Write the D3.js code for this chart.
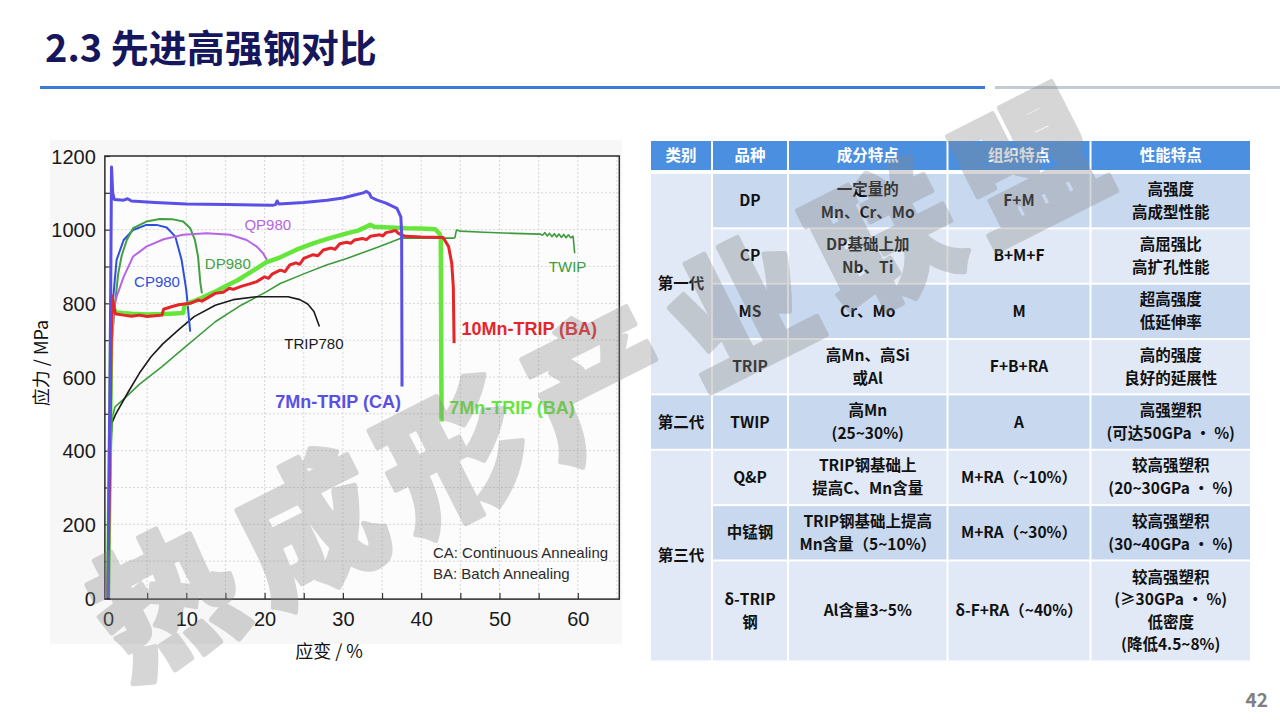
<!DOCTYPE html>
<html>
<head>
<meta charset="utf-8">
<script src="https://cdn.jsdelivr.net/npm/d3@7"></script>
<style>
  body { margin: 0; background: #fff; }
  svg { display: block; }
</style>
</head>
<body>
<svg id="slide" width="1280" height="720"></svg>
<script>
// ---- chart data: [strain %, stress MPa] ----
var strainTicks = [0, 5, 10, 15, 20, 25, 30, 35, 40, 45, 50, 55, 60];
var stressTicks = [0, 100, 200, 300, 400, 500, 600, 700, 800, 900, 1000, 1100, 1200];

var twip = [[0,0],[0.35,420],[0.6,495],[0.9,519],[2,540],[4,580],[6.9,628],[9,666],[13.7,750],[17,795],
  [20.2,831],[22,854],[25,880],[28,905],[30.5,922],[34.7,954],[37.4,977],[40,977],[44.1,977],[44.3,978],
  [44.5,999],[45,996],[48,993],[51.8,990],[55.2,988],[55.5,985],[55.8,992],[56.1,983],[56.4,990],[56.7,981],
  [57,989],[57.3,980],[57.6,988],[57.9,979],[58.2,987],[58.5,978],[58.8,986],[59.1,978],[59.4,982],[59.6,936]];
var trip780 = [[0,0],[0.3,300],[0.47,474],[1,500],[2.6,560],[4,610],[5.5,655],[7,690],[9,728],[11,764],
  [13.7,795],[16,810],[19,818],[23,818],[24.5,810],[25.5,798],[26.3,778],[27,737]];
var cp980 = [[0,0],[0.3,600],[0.6,800],[1.1,918],[2,972],[3.2,999],[4.9,1013],[6.2,1013],[7.5,1006],
  [8.6,981],[9.4,918],[10,836],[10.5,723]];
var dp980 = [[0,0],[0.5,700],[0.9,800],[1.3,880],[1.75,930],[2.4,972],[3.2,1004],[4.9,1022],[6.6,1029],
  [8.3,1028],[9.6,1022],[10.5,1004],[11.1,972],[11.5,927],[11.8,854],[12,827]];
var qp980 = [[0,0],[0.5,700],[0.8,790],[1.1,818],[2,872],[3.2,927],[4.9,954],[7.1,974],[9.6,986],
  [12.6,990],[15.6,986],[17.7,972],[19,954],[19.8,936],[20.3,918]];
var mn7CA = [[0,0],[0.3,700],[0.45,1170],[0.6,1100],[0.8,1082],[2,1080],[2.5,1084],[3,1078],[6,1074],
  [10,1070],[15,1068],[21,1066],[21.4,1068],[21.6,1078],[21.8,1070],[25,1074],[28,1080],[30,1086],
  [31.5,1094],[32.6,1100],[33,1104],[33.4,1098],[33.6,1088],[34.3,1081],[35.5,1072],[36.9,1058],
  [37.4,1035],[37.5,990],[37.55,574]];
var mn7BA = [[0,0],[0.3,500],[0.45,815],[0.7,790],[1,775],[3,772],[5,770],[7,771],[8,772],[9.6,774],
  [9.8,795],[10.5,803],[11,806],[12,815],[13,825],[14,835],[15.3,850],[16.5,862],[17.7,878],[19,895],
  [20.2,911],[22,925],[24,945],[26.2,963],[28,975],[30.5,990],[32,998],[33.5,1013],[34,1008],[36,1006],
  [38,1004],[40,1003],[41.8,1001],[42.3,990],[42.5,981],[42.6,479]];
var mn10BA = [[0,0],[0.3,500],[0.5,820],[0.7,800],[0.9,772],[2,768],[3,765],[4,768],[5,764],[6,766],
  [6.9,768],[7.1,784],[8,790],[9,796],[10.5,800],[11.5,809],[12,806],[13.7,827],[14.7,830],[15.5,841],
  [16,838],[17,846],[18,852],[19,859],[20,872],[20.5,868],[21,880],[22,890],[22.6,886],[23.2,904],
  [24,910],[24.5,906],[25,922],[26.2,932],[26.8,929],[27.5,945],[28.5,950],[29,947],[29.6,962],
  [30.5,966],[31,963],[31.5,972],[32.5,976],[33,973],[33.5,982],[34.7,986],[35.1,983],[35.5,992],
  [36.2,995],[36.7,998],[37.1,990],[37.5,986],[38,982],[40,980],[42.8,979],[43.5,954],[43.9,909],
  [44.1,845],[44.2,692]];

// ---- table data ----
var tableHeader = ["类别", "品种", "成分特点", "组织特点", "性能特点"];
var generations = [["第一代", 4], ["第二代", 1], ["第三代", 3]];
var grades = [["DP"], ["CP"], ["MS"], ["TRIP"], ["TWIP"], ["Q&P"], ["中锰钢"], ["δ-TRIP", "钢"]];
var compositions = [["一定量的", "Mn、Cr、Mo"], ["DP基础上加", "Nb、Ti"], ["Cr、Mo"], ["高Mn、高Si", "或Al"],
  ["高Mn", "(25~30%)"], ["TRIP钢基础上", "提高C、Mn含量"], ["TRIP钢基础上提高", "Mn含量（5~10%）"], ["Al含量3~5%"]];
var microstructures = [["F+M"], ["B+M+F"], ["M"], ["F+B+RA"], ["A"], ["M+RA（~10%）"], ["M+RA（~30%）"], ["δ-F+RA（~40%）"]];
var properties = [["高强度", "高成型性能"], ["高屈强比", "高扩孔性能"], ["超高强度", "低延伸率"], ["高的强度", "良好的延展性"],
  ["高强塑积", "(可达50GPa • %)"], ["较高强塑积", "(20~30GPa • %)"], ["较高强塑积", "(30~40GPa • %)"],
  ["较高强塑积", "(≥30GPa • %)", "低密度", "(降低4.5~8%)"]];

var cjk = "'Noto Sans CJK SC','Noto Sans',sans-serif";
var latin = "'Liberation Sans',Arial,sans-serif";

var svg = d3.select("#slide");

// title and rules
svg.append("text").attr("x", 45).attr("y", 62)
  .attr("font-family", cjk).attr("font-weight", 700).attr("font-size", 38)
  .attr("fill", "#16165c").text("2.3 先进高强钢对比");
svg.append("rect").attr("x", 40).attr("y", 86).attr("width", 945).attr("height", 3).attr("fill", "#3a7bd8");
svg.append("rect").attr("x", 995).attr("y", 86).attr("width", 285).attr("height", 3).attr("fill", "#c3cbd3");

// ---- stress-strain chart ----
var x = d3.scaleLinear().domain([0, 60]).range([108, 577.8]);
var y = d3.scaleLinear().domain([0, 1200]).range([598, 156]);
var x0 = x(-0.4), x1 = x(65.3), yTop = y(1200), yBot = y(-3);

var chart = svg.append("g");
chart.append("rect").attr("x", 50).attr("y", 140).attr("width", 572).attr("height", 504).attr("fill", "#f6f7f6");
chart.append("rect").attr("x", x0).attr("y", yTop).attr("width", x1 - x0).attr("height", yBot - yTop).attr("fill", "#fcfcfc");

// dotted grid
chart.append("g").selectAll("line").data(strainTicks.slice(1).concat([65]))
  .enter().append("line")
    .attr("x1", function(d) { return x(d); }).attr("x2", function(d) { return x(d); })
    .attr("y1", yTop).attr("y2", yBot)
    .attr("stroke", "#d6d6d6").attr("stroke-dasharray", "2,2");
chart.append("g").selectAll("line").data(stressTicks.slice(1, -1))
  .enter().append("line")
    .attr("x1", x0).attr("x2", x1)
    .attr("y1", function(d) { return y(d); }).attr("y2", function(d) { return y(d); })
    .attr("stroke", "#d6d6d6").attr("stroke-dasharray", "2,2");

// axes with inner ticks
var xAxis = chart.append("g").attr("transform", "translate(0," + yBot + ")")
  .call(d3.axisBottom(x).tickValues(strainTicks).tickSizeInner(-6).tickSizeOuter(0).tickPadding(13)
    .tickFormat(function(d) { return d % 10 === 0 ? d : ""; }));
var yAxis = chart.append("g").attr("transform", "translate(" + x0 + ",0)")
  .call(d3.axisLeft(y).tickValues(stressTicks).tickSizeInner(-5).tickSizeOuter(0).tickPadding(9)
    .tickFormat(function(d) { return d % 200 === 0 ? d : ""; }));
[xAxis, yAxis].forEach(function(a) {
  a.select(".domain").remove();
  a.selectAll("line").attr("stroke", "#333").attr("stroke-width", 1.2);
  a.selectAll("text").attr("font-family", latin).attr("font-size", 20).attr("fill", "#1a1a1a");
});
yAxis.selectAll("text").attr("dy", "0.35em");

chart.append("rect").attr("x", x0).attr("y", yTop).attr("width", x1 - x0).attr("height", yBot - yTop)
  .attr("fill", "none").attr("stroke", "#2a2a2a").attr("stroke-width", 1.5);

// curves
var line = d3.line().x(function(d) { return x(d[0]); }).y(function(d) { return y(d[1]); });
var curves = [
  { pts: twip, color: "#3d9b3d", w: 1.6 },
  { pts: trip780, color: "#1a1a1a", w: 1.6 },
  { pts: cp980, color: "#2c50dc", w: 2 },
  { pts: dp980, color: "#42a042", w: 2 },
  { pts: qp980, color: "#b566e6", w: 2 },
  { pts: mn7BA, color: "#66e63a", w: 4.5 },
  { pts: mn10BA, color: "#e4262b", w: 3 },
  { pts: mn7CA, color: "#5a50e6", w: 3 }
];
chart.append("g").selectAll("path").data(curves)
  .enter().append("path")
    .attr("d", function(d) { return line(d.pts); })
    .attr("fill", "none")
    .attr("stroke", function(d) { return d.color; })
    .attr("stroke-width", function(d) { return d.w; })
    .attr("stroke-linejoin", "round");

// curve labels, anchored in data units
var curveLabels = [
  { text: "QP980", s: 20.4, v: 1014, color: "#b566e6", size: 15, bold: false },
  { text: "DP980", s: 15.3, v: 908, color: "#42a042", size: 15, bold: false },
  { text: "CP980", s: 6.26, v: 859, color: "#2c50dc", size: 15, bold: false },
  { text: "TRIP780", s: 26.3, v: 690, color: "#1a1a1a", size: 15, bold: false },
  { text: "TWIP", s: 58.7, v: 899, color: "#3d9b3d", size: 15, bold: false },
  { text: "10Mn-TRIP (BA)", s: 53.8, v: 731, color: "#e4262b", size: 18, bold: true },
  { text: "7Mn-TRIP (CA)", s: 29.4, v: 532, color: "#5a50e6", size: 18, bold: true },
  { text: "7Mn-TRIP (BA)", s: 51.6, v: 517, color: "#66e63a", size: 18, bold: true }
];
chart.append("g").selectAll("text").data(curveLabels)
  .enter().append("text")
    .attr("x", function(d) { return x(d.s); })
    .attr("y", function(d) { return y(d.v); })
    .attr("text-anchor", "middle").attr("dy", "0.35em")
    .attr("font-family", latin)
    .attr("font-size", function(d) { return d.size; })
    .attr("font-weight", function(d) { return d.bold ? 700 : 400; })
    .attr("fill", function(d) { return d.color; })
    .text(function(d) { return d.text; });

var legendNotes = [["CA: Continuous Annealing", 122], ["BA: Batch Annealing", 65]];
chart.append("g").selectAll("text").data(legendNotes)
  .enter().append("text")
    .attr("x", x(41.5)).attr("y", function(d) { return y(d[1]); }).attr("dy", "0.35em")
    .attr("font-family", latin).attr("font-size", 15).attr("fill", "#2a2a2a")
    .text(function(d) { return d[0]; });

// axis titles
svg.append("text").attr("transform", "translate(42,363) rotate(-90)")
  .attr("text-anchor", "middle").attr("dy", "0.35em")
  .attr("font-family", cjk).attr("font-size", 18).attr("fill", "#111").text("应力 / MPa");
svg.append("text").attr("x", 329).attr("y", 652).attr("text-anchor", "middle").attr("dy", "0.35em")
  .attr("font-family", cjk).attr("font-size", 18).attr("fill", "#111").text("应变 / %");

// ---- table ----
var colX = [650, 712, 788, 947.5, 1090.5, 1251];
var headTop = 141, headH = 29, bodyTop = 174, pitch = 55.35, gap = 2, lineGap = 23;
var dark = "#c8d8ef", light = "#e0e9f5";
var table = svg.append("g").attr("font-family", cjk).attr("font-weight", 700).attr("font-size", 15.5);

function cellText(lines, cx, cy, color, lg) {
  var n = lines.length;
  lines.forEach(function(t, i) {
    table.append("text").attr("x", cx).attr("y", cy + (i - (n - 1) / 2) * lg)
      .attr("text-anchor", "middle").attr("dy", "0.35em").attr("fill", color).text(t);
  });
}
function colCenter(c) { return (colX[c] + colX[c + 1]) / 2; }

tableHeader.forEach(function(h, c) {
  table.append("rect").attr("x", colX[c] + 1).attr("y", headTop)
    .attr("width", colX[c + 1] - colX[c] - 2).attr("height", headH).attr("fill", "#4b8fe0");
  cellText([h], colCenter(c), headTop + headH / 2, "#fff", lineGap);
});

var rowTop = [], rowH = [];
var yy = bodyTop;
grades.forEach(function(g, i) {
  var h = properties[i].length > 2 ? 99 : pitch - gap;
  rowTop.push(yy); rowH.push(h);
  yy += h + gap;
});

var body = [grades, compositions, microstructures, properties];
grades.forEach(function(g, i) {
  body.forEach(function(col, k) {
    var c = k + 1;
    table.append("rect").attr("x", colX[c] + 1).attr("y", rowTop[i])
      .attr("width", colX[c + 1] - colX[c] - 2).attr("height", rowH[i])
      .attr("fill", i % 2 === 0 ? dark : light);
    cellText(col[i], colCenter(c), rowTop[i] + rowH[i] / 2, "#111", rowH[i] > 60 ? 22.5 : lineGap);
  });
});

var r = 0;
generations.forEach(function(gen, k) {
  var top = rowTop[r], bot = rowTop[r + gen[1] - 1] + rowH[r + gen[1] - 1];
  table.append("rect").attr("x", colX[0] + 1).attr("y", top)
    .attr("width", colX[1] - colX[0] - 2).attr("height", bot - top)
    .attr("fill", k % 2 === 0 ? light : dark);
  cellText([gen[0]], colCenter(0), (top + bot) / 2, "#111", lineGap);
  r += gen[1];
});

// watermark (whole group faded so stroke and fill don't double up)
var mark = "热成形产业联盟".split("");
svg.append("g").attr("transform", "translate(597,382) rotate(-26.8)").attr("opacity", 0.34)
  .selectAll("text").data(mark).enter().append("text")
    .attr("x", function(d, i) { return (i - 3) * 161; })
    .attr("text-anchor", "middle").attr("dy", "0.38em")
    .attr("font-family", cjk).attr("font-weight", 900).attr("font-size", 142)
    .attr("fill", "#888").attr("stroke", "#888").attr("stroke-width", 5)
    .attr("stroke-linejoin", "round")
    .text(function(d) { return d; });

// page number
svg.append("text").attr("x", 1268).attr("y", 707).attr("text-anchor", "end")
  .attr("font-family", cjk).attr("font-weight", 700).attr("font-size", 19)
  .attr("fill", "#7f7f7f").text("42");
</script>
</body>
</html>
